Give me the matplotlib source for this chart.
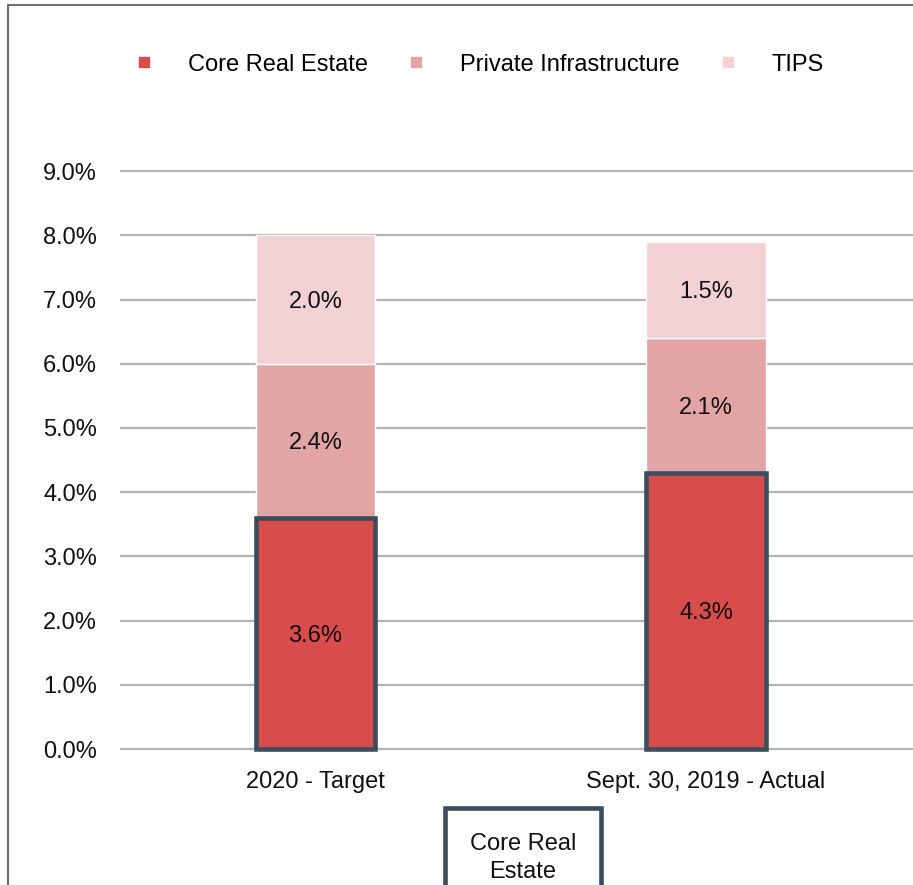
import matplotlib
matplotlib.use("Agg")
import matplotlib.pyplot as plt
from matplotlib.lines import Line2D
from matplotlib.patches import Rectangle

plt.rcParams["font.family"] = ["Liberation Sans", "DejaVu Sans"]

# data
categories = ["2020 - Target", "Sept. 30, 2019 - Actual"]
core_real_estate = [3.6, 4.3]
private_infra = [2.4, 2.1]
tips = [2.0, 1.5]
series_names = ["Core Real Estate", "Private Infrastructure", "TIPS"]
colors = ["#d84c4b", "#e3a4a5", "#f2d2d4"]
yticks = [0, 1, 2, 3, 4, 5, 6, 7, 8, 9]

W, H = 913, 885
fig = plt.figure(figsize=(W / 100, H / 100), dpi=100)
FS = 17

# axes placed in pixel terms: y=0 at 749px, 1% = 64.2px
ylo, yhi = -0.1, 9.2
px_per = 64.2
bot_px = 749 + (0 - ylo) * px_per
top_px = 749 - yhi * px_per
ax = fig.add_axes([120 / W, 1 - bot_px / H, 1 - 120 / W, (bot_px - top_px) / H])

x = [0, 1]
width = 0.305
edge_dark = "#3a4d5e"

ax.bar(x, core_real_estate, width, color=colors[0], edgecolor=edge_dark,
       linewidth=3.3, zorder=4)
ax.bar(x, private_infra, width, bottom=core_real_estate, color=colors[1],
       edgecolor="white", linewidth=1.0, zorder=3)
bottom2 = [a + b for a, b in zip(core_real_estate, private_infra)]
ax.bar(x, tips, width, bottom=bottom2, color=colors[2],
       edgecolor="white", linewidth=1.0, zorder=3)

for i in x:
    ax.text(i, core_real_estate[i] / 2, f"{core_real_estate[i]:.1f}%",
            ha="center", va="center_baseline", fontsize=FS, color="#111111", zorder=5)
    ax.text(i, core_real_estate[i] + private_infra[i] / 2, f"{private_infra[i]:.1f}%",
            ha="center", va="center_baseline", fontsize=FS, color="#111111", zorder=5)
    ax.text(i, bottom2[i] + tips[i] / 2, f"{tips[i]:.1f}%",
            ha="center", va="center_baseline", fontsize=FS, color="#111111", zorder=5)

ax.set_xlim(-0.5, 1.53)
ax.set_ylim(ylo, yhi)
ax.set_yticks(yticks)
ax.set_yticklabels([f"{v:.1f}%" for v in yticks])
ax.set_xticks(x)
ax.set_xticklabels(categories)
ax.tick_params(axis="both", length=0, labelsize=FS, colors="#111111")
ax.tick_params(axis="y", pad=16.5)
ax.tick_params(axis="x", pad=11)
ax.yaxis.grid(True, color="#b3b3b3", linewidth=1.6)
ax.set_axisbelow(True)
for s in ax.spines.values():
    s.set_visible(False)

handles = [Line2D([], [], marker="s", linestyle="none", markersize=7.8,
                  markerfacecolor=c, markeredgecolor=c) for c in colors]
fig.legend(handles, series_names, loc="center", bbox_to_anchor=(0.527, 0.927),
           ncol=3, frameon=False, fontsize=FS, handlelength=0.5,
           handletextpad=1.6, columnspacing=1.8)

# outer frame (top and left visible, the rest runs off the image)
fig.patches.append(Rectangle((8 / W, -0.1), 1.2, 1 - 5 / H + 0.1,
                             transform=fig.transFigure, fill=False,
                             edgecolor="#707070", linewidth=1.5))

# callout box at the bottom
fig.patches.append(Rectangle((445 / W, -0.05), 156 / W, 0.05 + 1 - 808 / H,
                             transform=fig.transFigure, facecolor="white",
                             edgecolor=edge_dark, linewidth=3.3))
fig.text(523 / W, 1 - 858 / H, "Core Real\nEstate", ha="center", va="center",
         fontsize=FS, color="#111111", linespacing=1.3)

fig.savefig("out.png", dpi=100)
